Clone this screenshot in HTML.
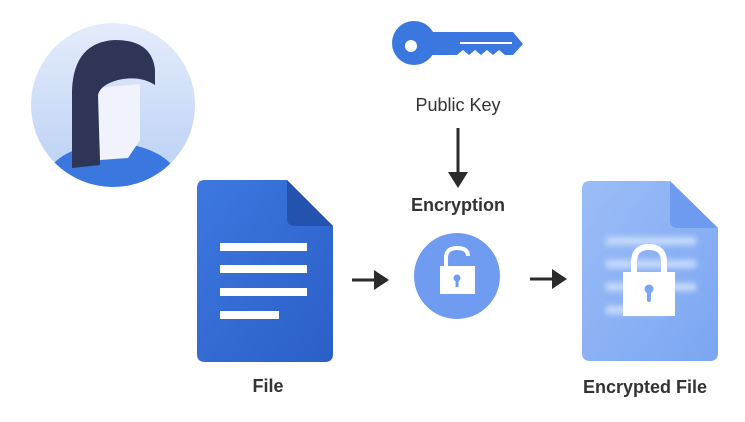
<!DOCTYPE html>
<html><head><style>
body{margin:0;width:745px;height:422px;background:#fff;overflow:hidden;font-family:"Liberation Sans",sans-serif;}
.t{position:absolute;font-weight:bold;color:#333;text-align:center;white-space:nowrap}
</style></head><body>
<svg width="745" height="422" style="position:absolute;left:0;top:0">
<defs>
<linearGradient id="av" x1="0" y1="0" x2="0" y2="1"><stop offset="0" stop-color="#e4ecfb"/><stop offset="1" stop-color="#b9cff5"/></linearGradient>
<linearGradient id="fd" x1="0" y1="0" x2="1" y2="1"><stop offset="0" stop-color="#3d78e0"/><stop offset="1" stop-color="#2a5fc6"/></linearGradient>
<linearGradient id="ed" x1="0" y1="0" x2="1" y2="1"><stop offset="0" stop-color="#9cbdf6"/><stop offset="1" stop-color="#7aa6f2"/></linearGradient>
<clipPath id="cc"><circle cx="113" cy="105" r="82"/></clipPath>
<filter id="bl"><feGaussianBlur stdDeviation="3"/></filter>
</defs>
<circle cx="113" cy="105" r="82" fill="url(#av)"/>
<g clip-path="url(#cc)">
<ellipse cx="112" cy="185" rx="68" ry="42" fill="#3a78e0"/>
<path d="M98 88 L140 84 L140 140 L128 158 L100 160 Z" fill="#f0f3fb"/>
<path d="M72 168 L72 90 Q74 42 115 40 Q152 40 155 70 L155 85 Q140 75 118 80 Q100 85 98 95 L100 165 Z" fill="#2e3556"/>
</g>
<circle cx="414" cy="43" r="22" fill="#3a78e0"/>
<path d="M425 32 L513 32 L523 44 L513 55 L505 55 L499 50 L493 55 L487 50 L481 55 L475 50 L469 55 L463 50 L457 55 L430 55 Z" fill="#3a78e0"/>
<circle cx="411" cy="46" r="6" fill="#fff"/>
<line x1="460" y1="43" x2="512" y2="43" stroke="#fff" stroke-width="2"/>
<line x1="458" y1="128" x2="458" y2="176" stroke="#2b2b2b" stroke-width="3"/>
<path d="M448 172 L468 172 L458 188 Z" fill="#2b2b2b"/>
<path d="M205 180 L287 180 L333 226 L333 354 Q333 362 325 362 L205 362 Q197 362 197 354 L197 188 Q197 180 205 180 Z" fill="url(#fd)"/>
<path d="M287 180 L333 226 L295 226 Q287 226 287 218 Z" fill="#2452ad"/>
<rect x="220" y="243" width="87" height="8" fill="#fff"/>
<rect x="220" y="265" width="87" height="8" fill="#fff"/>
<rect x="220" y="288" width="87" height="8" fill="#fff"/>
<rect x="220" y="311" width="59" height="8" fill="#fff"/>
<line x1="352" y1="280" x2="376" y2="280" stroke="#2b2b2b" stroke-width="3"/>
<path d="M374 270 L389 280 L374 290 Z" fill="#2b2b2b"/>
<line x1="530" y1="279" x2="554" y2="279" stroke="#2b2b2b" stroke-width="3"/>
<path d="M552 269 L567 279 L552 289 Z" fill="#2b2b2b"/>
<circle cx="457" cy="276" r="43" fill="#6f9cf0"/>
<path d="M446 266 L446 258 Q446 248 457 248 Q468 248 468 256" fill="none" stroke="#fff" stroke-width="4"/>
<rect x="440" y="266" width="35" height="28" fill="#fff"/>
<circle cx="457" cy="278" r="3.5" fill="#6f9cf0"/><rect x="455.5" y="279" width="3" height="8" fill="#6f9cf0"/>
<path d="M590 181 L670 181 L718 228 L718 353 Q718 361 710 361 L590 361 Q582 361 582 353 L582 189 Q582 181 590 181 Z" fill="url(#ed)"/>
<path d="M670 181 L718 228 L678 228 Q670 228 670 220 Z" fill="#6e9af0"/>
<g filter="url(#bl)" fill="#c7dafb">
<rect x="606" y="237" width="90" height="8"/><rect x="606" y="260" width="90" height="8"/>
<rect x="606" y="283" width="90" height="8"/><rect x="606" y="306" width="60" height="8"/>
</g>
<path d="M634 272 L634 262 Q634 247 649 247 Q664 247 664 262 L664 272" fill="none" stroke="#fff" stroke-width="6"/>
<rect x="623" y="272" width="52" height="44" fill="#fff"/>
<circle cx="649" cy="289" r="4.5" fill="#7aa6f2"/><rect x="647" y="290" width="4" height="12" rx="2" fill="#7aa6f2"/>
</svg>
<div class="t" style="left:378px;top:95px;width:160px;font-size:18px;font-weight:normal;color:#333">Public Key</div>
<div class="t" style="left:378px;top:195px;width:160px;font-size:18px">Encryption</div>
<div class="t" style="left:218px;top:376px;width:100px;font-size:18px">File</div>
<div class="t" style="left:560px;top:377px;width:170px;font-size:18px">Encrypted File</div>
</body></html>
